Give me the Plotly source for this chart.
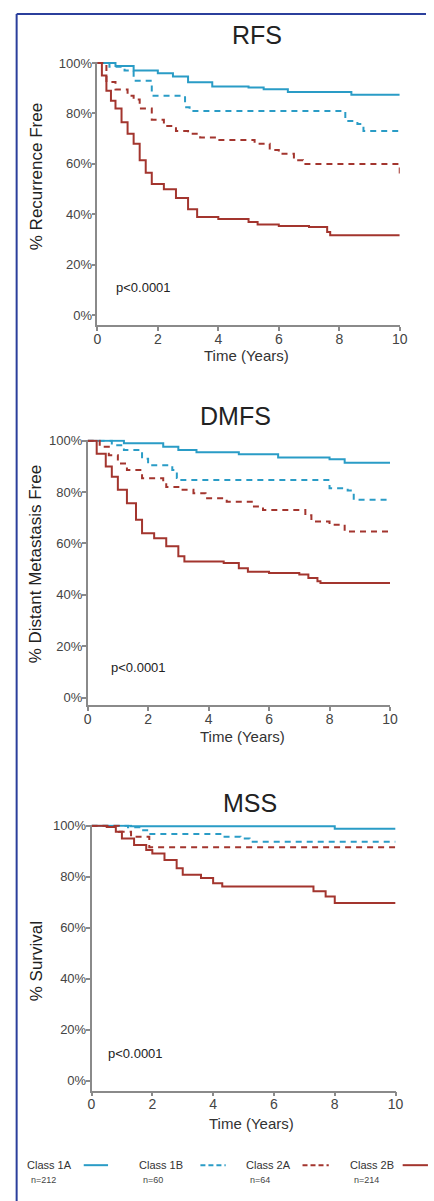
import plotly.graph_objects as go

W, H = 434, 1201
FONT = "Liberation Sans, Arial, sans-serif"

BLUE = "#2a9cc6"
RED = "#a3352e"

classes = ["Class 1A", "Class 1B", "Class 2A", "Class 2B"]
class_n = ["n=212", "n=60", "n=64", "n=214"]
class_colors = [BLUE, BLUE, RED, RED]
class_dash = ["solid", "6px,5px", "6px,5px", "solid"]

panel_titles = ["RFS", "DMFS", "MSS"]
y_titles = ["% Recurrence Free", "% Distant Metastasis Free", "% Survival"]
x_title = "Time (Years)"
p_text = "p<0.0001"
x_ticks = [0, 2, 4, 6, 8, 10]
y_ticks = [0, 20, 40, 60, 80, 100]
y_tick_labels = ["0%", "20%", "40%", "60%", "80%", "100%"]

# ---- RFS ----
rfs_1a_t = [0, 0.6, 1.2, 2.0, 2.5, 3.0, 3.8, 5.0, 5.5, 6.3, 8.4, 10]
rfs_1a_s = [100, 98.8, 97, 95.9, 94.6, 92.4, 90.7, 90.3, 89.6, 88.5, 87.4, 87.4]
rfs_1b_t = [0, 0.4, 0.9, 1.2, 1.8, 2.9, 3.05, 8.2, 8.6, 8.8, 10]
rfs_1b_s = [100, 98.5, 97, 93, 87, 82.5, 81, 77, 75.8, 73, 73]
rfs_2a_t = [0, 0.3, 0.6, 1.0, 1.2, 1.4, 1.8, 2.2, 2.6, 3.0, 3.4, 4.0, 5.2, 5.7, 6.0, 6.5, 6.8, 10]
rfs_2a_s = [100, 92.5, 89.5, 87, 85.5, 82, 77.5, 75, 73, 72, 70.5, 69.5, 68, 65.5, 64, 61.5, 60, 55]
rfs_2b_t = [0, 0.15, 0.3, 0.45, 0.6, 0.8, 1.0, 1.2, 1.4, 1.6, 1.8, 2.2, 2.6, 3.0, 3.3,
            4.0, 5.0, 5.3, 6.0, 7.0, 7.6, 7.7, 10]
rfs_2b_s = [100, 95, 89, 85, 82, 76.5, 72, 68, 61.5, 56.5, 52, 50, 46.5, 42, 39,
            38.2, 37, 36, 35.4, 35, 33, 31.7, 31.7]

# ---- DMFS ----
dmfs_1a_t = [0, 1.2, 2.5, 3.0, 3.6, 5.0, 6.3, 8.0, 8.5, 10]
dmfs_1a_s = [100, 99, 97.7, 96.4, 95.5, 94.8, 93.5, 92.8, 91.5, 91.5]
dmfs_1b_t = [0, 0.8, 1.2, 1.8, 2.0, 2.8, 2.95, 3.1, 8.0, 8.6, 8.8, 10]
dmfs_1b_s = [100, 98.3, 96.4, 93, 90.5, 88.6, 85.5, 84.7, 81.5, 80.6, 77, 77]
dmfs_2a_t = [0, 0.4, 0.7, 1.0, 1.3, 1.8, 2.5, 2.6, 3.0, 3.5, 3.9, 4.6, 5.5, 5.8, 7.2, 7.4, 8.0, 8.5, 10]
dmfs_2a_s = [100, 97.7, 94.4, 91.2, 88.6, 85.4, 84, 82, 80.9, 79.6, 77.6, 76.3, 74.4, 73, 71, 68.6, 67.3, 64.7, 64.7]
dmfs_2b_t = [0, 0.3, 0.6, 0.8, 1.0, 1.3, 1.6, 1.8, 2.2, 2.6, 3.0, 3.2, 4.5, 5.0, 5.3,
             6.0, 7.0, 7.3, 7.6, 7.7, 10]
dmfs_2b_s = [100, 95, 90, 86, 80.9, 75.7, 69.2, 64, 62, 58.9, 55, 53, 52.4, 50.4, 49,
             48.5, 47.9, 46.6, 45.3, 44.6, 44.6]

# ---- MSS ----
mss_1a_t = [0, 1.3, 8.0, 10]
mss_1a_s = [100, 99.8, 98.9, 98.9]
mss_1b_t = [0, 1.2, 1.6, 1.9, 4.3, 4.9, 5.2, 10]
mss_1b_s = [100, 99.5, 98.3, 96.8, 95.7, 95, 93.8, 93.8]
mss_2a_t = [0, 0.9, 1.3, 1.9, 10]
mss_2a_s = [100, 97.7, 95.7, 91.6, 91.6]
mss_2b_t = [0, 0.5, 0.8, 1.0, 1.4, 1.8, 2.0, 2.4, 2.8, 3.0, 3.6, 4.0, 4.3, 7.3, 7.7, 8.0, 10]
mss_2b_s = [100, 99.6, 97.7, 95, 92.5, 90.5, 89.2, 86.6, 83.4, 80.8, 79.5, 77.5, 76.2, 74.3, 72.3, 69.7, 69.7]

panels = [
    [(rfs_1a_t, rfs_1a_s), (rfs_1b_t, rfs_1b_s), (rfs_2a_t, rfs_2a_s), (rfs_2b_t, rfs_2b_s)],
    [(dmfs_1a_t, dmfs_1a_s), (dmfs_1b_t, dmfs_1b_s), (dmfs_2a_t, dmfs_2a_s), (dmfs_2b_t, dmfs_2b_s)],
    [(mss_1a_t, mss_1a_s), (mss_1b_t, mss_1b_s), (mss_2a_t, mss_2a_s), (mss_2b_t, mss_2b_s)],
]

# ---- layout geometry (pixels) ----
px_x = lambda p: p / W
px_y = lambda p: 1 - p / H

geom = [
    dict(x0=96, x1=407, top=56, bot=321, ylo=-4, title=(260, 29), yt=(33, 172), xt=(249, 351), p=(113, 283)),
    dict(x0=86, x1=397, top=435.7, bot=703, ylo=-3.1, title=(238, 412), yt=(32, 561), xt=(245, 734), p=(108, 665)),
    dict(x0=90, x1=402.7, top=822.7, bot=1090, ylo=-3.9, title=(253, 801), yt=(33, 960), xt=(255, 1123), p=(105, 1053)),
]

fig = go.Figure()
annotations = []
layout_axes = {}

for i, (g, curves) in enumerate(zip(geom, panels)):
    k = "" if i == 0 else str(i + 1)
    for j, (t, s) in enumerate(curves):
        fig.add_trace(go.Scatter(
            x=t, y=s, mode="lines", line_shape="hv",
            line=dict(color=class_colors[j], width=2, dash=class_dash[j]),
            xaxis="x" + k, yaxis="y" + k, showlegend=False, hoverinfo="skip"))
    layout_axes["xaxis" + k] = dict(
        domain=[px_x(g["x0"]), px_x(g["x1"])], range=[0, 10], anchor="y" + k,
        tickmode="array", tickvals=x_ticks, ticktext=[str(v) for v in x_ticks],
        showline=True, linecolor="#8a8a8a", linewidth=1.5,
        ticks="outside", ticklen=4, tickcolor="#8a8a8a", tickwidth=1.5,
        ticklabelstandoff=-4,
        showgrid=False, zeroline=False,
        tickfont=dict(family=FONT, size=14, color="#444"))
    layout_axes["yaxis" + k] = dict(
        domain=[px_y(g["bot"]), px_y(g["top"])], range=[g["ylo"], 100.5], anchor="x" + k,
        tickmode="array", tickvals=y_ticks, ticktext=y_tick_labels,
        showline=True, linecolor="#8a8a8a", linewidth=1.5,
        ticks="outside", ticklen=4, tickcolor="#8a8a8a", tickwidth=1.5,
        ticklabelstandoff=-3,
        showgrid=False, zeroline=False,
        tickfont=dict(family=FONT, size=13, color="#444"))
    annotations.append(dict(text=panel_titles[i], x=px_x(g["title"][0]), y=px_y(g["title"][1]),
                            xref="paper", yref="paper", showarrow=False, xanchor="center", yanchor="middle",
                            font=dict(family=FONT, size=25, color="#222")))
    annotations.append(dict(text=y_titles[i], x=px_x(g["yt"][0]), y=px_y(g["yt"][1]),
                            xref="paper", yref="paper", showarrow=False, textangle=-90,
                            xanchor="center", yanchor="middle",
                            font=dict(family=FONT, size=17, color="#222")))
    annotations.append(dict(text=x_title, x=px_x(g["xt"][0]), y=px_y(g["xt"][1]),
                            xref="paper", yref="paper", showarrow=False, xanchor="center", yanchor="middle",
                            font=dict(family=FONT, size=15, color="#333")))
    annotations.append(dict(text=p_text, x=px_x(g["p"][0]), y=px_y(g["p"][1]),
                            xref="paper", yref="paper", showarrow=False, xanchor="left", yanchor="middle",
                            font=dict(family=FONT, size=13, color="#222")))

# ---- legend (text left, line sample right) ----
leg_text_x = [22, 137, 247, 354]
leg_line_x = [(82, 107), (202, 228), (307, 334), (410, 436)]
leg_y = 1165
shapes = []
for j in range(4):
    annotations.append(dict(text=classes[j], x=px_x(leg_text_x[j]), y=px_y(leg_y),
                            xref="paper", yref="paper", showarrow=False, xanchor="left", yanchor="middle",
                            font=dict(family=FONT, size=11, color="#333")))
    annotations.append(dict(text=class_n[j], x=px_x(leg_text_x[j] + 4), y=px_y(leg_y + 15),
                            xref="paper", yref="paper", showarrow=False, xanchor="left", yanchor="middle",
                            font=dict(family=FONT, size=9, color="#444")))
    a, b = leg_line_x[j]
    shapes.append(dict(type="line", xref="paper", yref="paper",
                       x0=px_x(a), x1=px_x(b), y0=px_y(leg_y), y1=px_y(leg_y),
                       line=dict(color=class_colors[j], width=2,
                                 dash="solid" if class_dash[j] == "solid" else "5px,3px")))

# frame lines (top and left, dark blue)
shapes.append(dict(type="line", xref="paper", yref="paper", x0=px_x(13), x1=1.0,
                   y0=px_y(8), y1=px_y(8), line=dict(color="#2b3f9c", width=2)))
shapes.append(dict(type="line", xref="paper", yref="paper", x0=px_x(13), x1=px_x(13),
                   y0=px_y(8), y1=0, line=dict(color="#2b3f9c", width=2)))

fig.update_layout(
    width=W, height=H, margin=dict(l=0, r=0, t=0, b=0),
    paper_bgcolor="white", plot_bgcolor="white",
    annotations=annotations, shapes=shapes, showlegend=False,
    **layout_axes)

fig.write_html("out.html")
